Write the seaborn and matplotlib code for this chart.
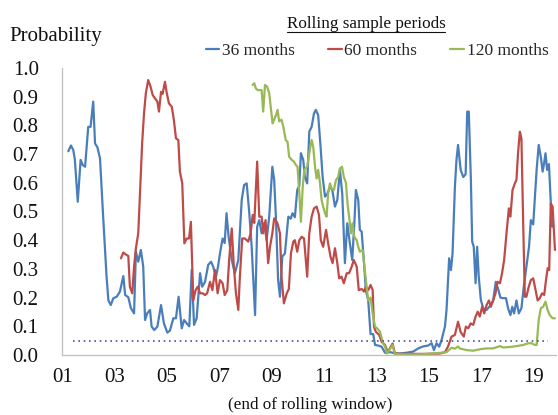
import matplotlib
matplotlib.use("Agg")
import matplotlib.pyplot as plt
import matplotlib.lines as mlines
import seaborn as sns
import pandas as pd
import numpy as np

# ---------------- data (decimal year, probability) ----------------
x36 = [2001.23, 2001.33, 2001.42, 2001.48, 2001.59, 2001.70, 2001.78, 2001.87, 2001.99, 2002.08,
       2002.18, 2002.25, 2002.34, 2002.44, 2002.56, 2002.69, 2002.76, 2002.85, 2002.95, 2003.08,
       2003.20, 2003.33, 2003.40, 2003.52, 2003.62, 2003.74, 2003.81, 2003.90, 2004.00, 2004.09,
       2004.16, 2004.24, 2004.35, 2004.41, 2004.51, 2004.63, 2004.77, 2004.88, 2005.01, 2005.11,
       2005.24, 2005.34, 2005.44, 2005.56, 2005.65, 2005.75, 2005.85, 2005.94, 2006.03, 2006.13,
       2006.26, 2006.34, 2006.45, 2006.57, 2006.68, 2006.76, 2006.87, 2006.95, 2007.02, 2007.12,
       2007.20, 2007.27, 2007.35, 2007.47, 2007.59, 2007.72, 2007.85, 2007.94, 2008.04, 2008.14,
       2008.23, 2008.36, 2008.44, 2008.52, 2008.61, 2008.71, 2008.80, 2008.90, 2009.02, 2009.09,
       2009.16, 2009.24, 2009.31, 2009.40, 2009.50, 2009.63, 2009.72, 2009.79, 2009.88, 2009.97,
       2010.05, 2010.11, 2010.20, 2010.26, 2010.35, 2010.43, 2010.52, 2010.61, 2010.68, 2010.77,
       2010.86, 2010.94, 2011.03, 2011.11, 2011.22, 2011.31, 2011.41, 2011.50, 2011.60, 2011.69,
       2011.79, 2011.88, 2011.98, 2012.07, 2012.15, 2012.21, 2012.30, 2012.36, 2012.43, 2012.52,
       2012.59, 2012.68, 2012.77, 2012.87, 2012.94, 2013.06, 2013.19, 2013.32, 2013.51, 2013.70,
       2013.89, 2014.15, 2014.40, 2014.59, 2014.78, 2014.97, 2015.10, 2015.19, 2015.29, 2015.39,
       2015.48, 2015.61, 2015.67, 2015.77, 2015.84, 2015.90, 2015.99, 2016.05, 2016.11, 2016.21,
       2016.31, 2016.40, 2016.46, 2016.52, 2016.60, 2016.65, 2016.71, 2016.78, 2016.84, 2016.90,
       2016.98, 2017.07, 2017.20, 2017.32, 2017.45, 2017.55, 2017.64, 2017.73, 2017.83, 2017.94,
       2018.02, 2018.11, 2018.18, 2018.25, 2018.34, 2018.43, 2018.53, 2018.62, 2018.72, 2018.82,
       2018.89, 2018.98, 2019.04, 2019.11, 2019.19, 2019.27, 2019.34, 2019.39, 2019.45, 2019.51,
       2019.58, 2019.64, 2019.70]
y36 = [0.71, 0.73, 0.714, 0.68, 0.534, 0.68, 0.662, 0.656, 0.795, 0.795,
       0.883, 0.737, 0.724, 0.685, 0.482, 0.273, 0.19, 0.174, 0.198, 0.203,
       0.221, 0.275, 0.209, 0.201, 0.163, 0.145, 0.36, 0.325, 0.366, 0.308,
       0.122, 0.145, 0.157, 0.099, 0.087, 0.099, 0.174, 0.11, 0.078, 0.085,
       0.128, 0.128, 0.203, 0.093, 0.122, 0.11, 0.10, 0.296, 0.105, 0.128,
       0.285, 0.238, 0.255, 0.314, 0.325, 0.308, 0.273, 0.31, 0.354, 0.406,
       0.39, 0.494, 0.412, 0.331, 0.285, 0.331, 0.54, 0.592, 0.598, 0.494,
       0.377, 0.139, 0.447, 0.47, 0.424, 0.46, 0.40, 0.482, 0.656, 0.61,
       0.47, 0.261, 0.203, 0.343, 0.354, 0.482, 0.475, 0.494, 0.48, 0.575,
       0.59, 0.703, 0.68, 0.62, 0.598, 0.778, 0.795, 0.842, 0.854, 0.836,
       0.726, 0.62, 0.552, 0.56, 0.586, 0.575, 0.517, 0.54, 0.645, 0.56,
       0.32, 0.459, 0.389, 0.331, 0.459, 0.575, 0.54, 0.436, 0.43, 0.32,
       0.226, 0.19, 0.073, 0.073, 0.035, 0.033, 0.029, 0.008, 0.01, 0.006,
       0.005, 0.008, 0.012, 0.023, 0.03, 0.033, 0.041, 0.017, 0.041, 0.029,
       0.052, 0.099, 0.157, 0.337, 0.296, 0.354, 0.586, 0.68, 0.732, 0.645,
       0.62, 0.63, 0.848, 0.848, 0.61, 0.395, 0.377, 0.25, 0.377, 0.273,
       0.192, 0.163, 0.157, 0.17, 0.19, 0.255, 0.23, 0.20, 0.198, 0.198,
       0.163, 0.139, 0.168, 0.145, 0.19, 0.145, 0.163, 0.238, 0.308, 0.377,
       0.47, 0.455, 0.54, 0.645, 0.732, 0.69, 0.639, 0.665, 0.703, 0.645,
       0.665, 0.552, 0.447]

x60 = [2003.24, 2003.33, 2003.43, 2003.52, 2003.58, 2003.67, 2003.74, 2003.81, 2003.90, 2003.97,
       2004.05, 2004.12, 2004.19, 2004.28, 2004.37, 2004.45, 2004.54, 2004.63, 2004.69, 2004.77,
       2004.83, 2004.92, 2004.98, 2005.07, 2005.18, 2005.26, 2005.34, 2005.43, 2005.49, 2005.58,
       2005.66, 2005.75, 2005.84, 2005.91, 2006.00, 2006.09, 2006.17, 2006.26, 2006.36, 2006.45,
       2006.53, 2006.64, 2006.73, 2006.83, 2006.93, 2007.02, 2007.12, 2007.20, 2007.30, 2007.37,
       2007.47, 2007.55, 2007.63, 2007.72, 2007.78, 2007.87, 2007.97, 2008.10, 2008.19, 2008.27,
       2008.33, 2008.44, 2008.52, 2008.61, 2008.67, 2008.76, 2008.86, 2008.93, 2009.02, 2009.09,
       2009.21, 2009.31, 2009.37, 2009.46, 2009.57, 2009.65, 2009.73, 2009.82, 2009.88, 2009.97,
       2010.05, 2010.14, 2010.23, 2010.35, 2010.43, 2010.52, 2010.61, 2010.71, 2010.80, 2010.87,
       2010.96, 2011.07, 2011.15, 2011.24, 2011.32, 2011.41, 2011.50, 2011.57, 2011.66, 2011.75,
       2011.86, 2011.95, 2012.05, 2012.13, 2012.24, 2012.32, 2012.43, 2012.52, 2012.59, 2012.68,
       2012.77, 2012.85, 2012.90, 2012.97, 2013.10, 2013.19, 2013.32, 2013.43, 2013.61, 2013.70,
       2014.27, 2014.84, 2015.42, 2015.61, 2015.73, 2015.86, 2015.99, 2016.11, 2016.21, 2016.33,
       2016.41, 2016.50, 2016.59, 2016.69, 2016.78, 2016.86, 2016.94, 2017.03, 2017.11, 2017.20,
       2017.29, 2017.36, 2017.45, 2017.54, 2017.62, 2017.71, 2017.79, 2017.87, 2017.96, 2018.05,
       2018.11, 2018.19, 2018.28, 2018.34, 2018.40, 2018.47, 2018.53, 2018.60, 2018.66, 2018.72,
       2018.81, 2018.89, 2018.98, 2019.07, 2019.15, 2019.23, 2019.32, 2019.40, 2019.46, 2019.53,
       2019.59, 2019.65, 2019.72, 2019.81]
y60 = [0.337, 0.357, 0.35, 0.345, 0.238, 0.215, 0.308, 0.372, 0.424, 0.575,
       0.74, 0.842, 0.912, 0.958, 0.935, 0.906, 0.894, 0.883, 0.848, 0.917,
       0.91, 0.952, 0.917, 0.877, 0.865, 0.819, 0.755, 0.749, 0.639, 0.598,
       0.389, 0.406, 0.406, 0.464, 0.19, 0.226, 0.238, 0.215, 0.215, 0.209,
       0.215, 0.255, 0.226, 0.296, 0.215, 0.261, 0.25, 0.209, 0.226, 0.331,
       0.441, 0.308, 0.215, 0.157, 0.273, 0.406, 0.406, 0.395, 0.424, 0.488,
       0.46, 0.674, 0.482, 0.482, 0.424, 0.47, 0.32, 0.377, 0.424, 0.476,
       0.46, 0.424, 0.273, 0.18, 0.215, 0.23, 0.354, 0.395, 0.40, 0.36,
       0.40, 0.412, 0.406, 0.273, 0.424, 0.482, 0.511, 0.517, 0.488, 0.40,
       0.377, 0.436, 0.389, 0.343, 0.32, 0.372, 0.32, 0.267, 0.273, 0.25,
       0.285, 0.285, 0.308, 0.331, 0.308, 0.226, 0.23, 0.221, 0.238, 0.226,
       0.244, 0.226, 0.099, 0.081, 0.07, 0.046, 0.035, 0.01, 0.04, 0.005,
       0.004, 0.004, 0.005, 0.01, 0.03, 0.064, 0.07, 0.116, 0.08, 0.064,
       0.099, 0.093, 0.11, 0.105, 0.134, 0.151, 0.134, 0.168, 0.145, 0.174,
       0.19, 0.168, 0.19, 0.215, 0.255, 0.25, 0.285, 0.331, 0.424, 0.511,
       0.482, 0.575, 0.598, 0.61, 0.703, 0.778, 0.755, 0.447, 0.203, 0.203,
       0.238, 0.261, 0.267, 0.226, 0.19, 0.198, 0.215, 0.209, 0.255, 0.302,
       0.296, 0.528, 0.517, 0.366]

x120 = [2008.27, 2008.33, 2008.39, 2008.46, 2008.55, 2008.61, 2008.67, 2008.74, 2008.82, 2008.90,
        2008.97, 2009.03, 2009.09, 2009.16, 2009.22, 2009.28, 2009.37, 2009.44, 2009.53, 2009.60,
        2009.66, 2009.76, 2009.84, 2009.92, 2009.98, 2010.05, 2010.11, 2010.18, 2010.24, 2010.35,
        2010.45, 2010.52, 2010.58, 2010.65, 2010.71, 2010.77, 2010.84, 2010.90, 2010.96, 2011.03,
        2011.09, 2011.15, 2011.22, 2011.28, 2011.37, 2011.45, 2011.53, 2011.60, 2011.68, 2011.75,
        2011.83, 2011.89, 2011.95, 2012.02, 2012.08, 2012.15, 2012.24, 2012.30, 2012.36, 2012.47,
        2012.55, 2012.62, 2012.68, 2012.77, 2012.85, 2012.94, 2013.02, 2013.13, 2013.23, 2013.32,
        2013.40, 2013.61, 2013.70, 2014.27, 2014.84, 2015.48, 2015.67, 2015.86, 2015.99, 2016.11,
        2016.17, 2016.44, 2016.69, 2016.94, 2017.20, 2017.45, 2017.71, 2017.83, 2018.09, 2018.34,
        2018.60, 2018.79, 2018.92, 2019.04, 2019.11, 2019.19, 2019.27, 2019.36, 2019.45, 2019.53,
        2019.61, 2019.72, 2019.81]
y120 = [0.941, 0.947, 0.929, 0.923, 0.923, 0.923, 0.848, 0.941, 0.935, 0.912,
        0.854, 0.807, 0.82, 0.836, 0.854, 0.814, 0.82, 0.795, 0.749, 0.743,
        0.691, 0.68, 0.674, 0.662, 0.656, 0.563, 0.464, 0.586, 0.645, 0.656,
        0.714, 0.749, 0.726, 0.656, 0.615, 0.645, 0.598, 0.54, 0.517, 0.494,
        0.482, 0.563, 0.598, 0.58, 0.575, 0.61, 0.62, 0.65, 0.656, 0.62,
        0.60, 0.528, 0.482, 0.424, 0.459, 0.412, 0.40, 0.377, 0.36, 0.366,
        0.296, 0.238, 0.19, 0.2, 0.145, 0.099, 0.093, 0.081, 0.046, 0.029,
        0.005, 0.035, 0.003, 0.002, 0.003, 0.008, 0.01, 0.025, 0.022, 0.03,
        0.023, 0.017, 0.015, 0.02, 0.023, 0.023, 0.031, 0.026, 0.028, 0.031,
        0.035, 0.041, 0.041, 0.035, 0.035, 0.122, 0.163, 0.168, 0.186, 0.157,
        0.139, 0.128, 0.128]

series_names = ["36 months", "60 months", "120 months"]
threshold = 0.05
threshold_span = [2001.4, 2019.55]
xtick_years = list(range(2001, 2020, 2))
xtick_labels = ["01", "03", "05", "07", "09", "11", "13", "15", "17", "19"]
yticks = [round(0.1 * i, 1) for i in range(11)]

# ---------------- build frame ----------------
df = pd.concat([
    pd.DataFrame({"year": x36, "prob": y36, "window": series_names[0]}),
    pd.DataFrame({"year": x60, "prob": y60, "window": series_names[1]}),
    pd.DataFrame({"year": x120, "prob": y120, "window": series_names[2]}),
], ignore_index=True)

sns.set_theme(style="white")
plt.rcParams["font.family"] = ["Liberation Serif", "DejaVu Serif"]

palette = {"36 months": "#4a7ebb", "60 months": "#be4b48", "120 months": "#98b954"}

fig = plt.figure(figsize=(5.58, 4.15), dpi=100)
ax = fig.add_axes([62.3 / 558, 1 - 355 / 415, (556 - 62.3) / 558, (355 - 68) / 415])

sns.lineplot(data=df, x="year", y="prob", hue="window", palette=palette,
             estimator=None, sort=False, linewidth=1.6, ax=ax, legend=False)

ax.plot(threshold_span, [threshold, threshold], color="#5050a0",
        linestyle=(0, (1.0, 2.2)), linewidth=1.2)

ax.set_xlim(2001, 2019.85)
ax.set_ylim(0, 1.0)
ax.set_xticks(xtick_years)
ax.set_xticklabels(xtick_labels)
ax.set_yticks(yticks)
ax.set_yticklabels([f"{v:.1f}" for v in yticks])
ax.tick_params(axis="both", which="major", direction="out", length=4,
               width=0.8, color="#bfbfbf", labelsize=15, labelcolor="#111111")
ax.tick_params(axis="y", pad=13)
ax.tick_params(axis="x", pad=5)
ax.set_xlabel("")
ax.set_ylabel("")
for s in ["top", "right"]:
    ax.spines[s].set_visible(False)
for s in ["left", "bottom"]:
    ax.spines[s].set_color("#bfbfbf")
    ax.spines[s].set_linewidth(0.9)

fig.text(9 / 558, 1 - 36 / 415, "Probability", fontsize=15, ha="left",
         va="center", color="#111111")
fig.text(310 / 558, 1 - 405 / 415, "(end of rolling window)", fontsize=12.3,
         ha="center", va="center", color="#111111")

title = fig.text(366 / 558, 1 - 24 / 415, "Rolling sample periods", fontsize=12.3,
                 ha="center", va="center", color="#111111")
fig.canvas.draw()
bb = title.get_window_extent(fig.canvas.get_renderer())
inv = fig.transFigure.inverted()
(x0, y0), (x1, y1) = inv.transform([[bb.x0, bb.y0], [bb.x1, bb.y1]])
fig.add_artist(mlines.Line2D([x0, x1], [1 - 32 / 415] * 2, color="#111111",
                             linewidth=0.8, transform=fig.transFigure))

handles = [mlines.Line2D([], [], color=palette[n], linewidth=1.6) for n in series_names]
fig.legend(handles, series_names, loc="center", bbox_to_anchor=(377 / 558, 1 - 51 / 415),
           ncol=3, frameon=False, fontsize=12.5, handlelength=0.8, handletextpad=0.15,
           columnspacing=1.9, borderaxespad=0, borderpad=0)

fig.savefig("out.png", dpi=100)
